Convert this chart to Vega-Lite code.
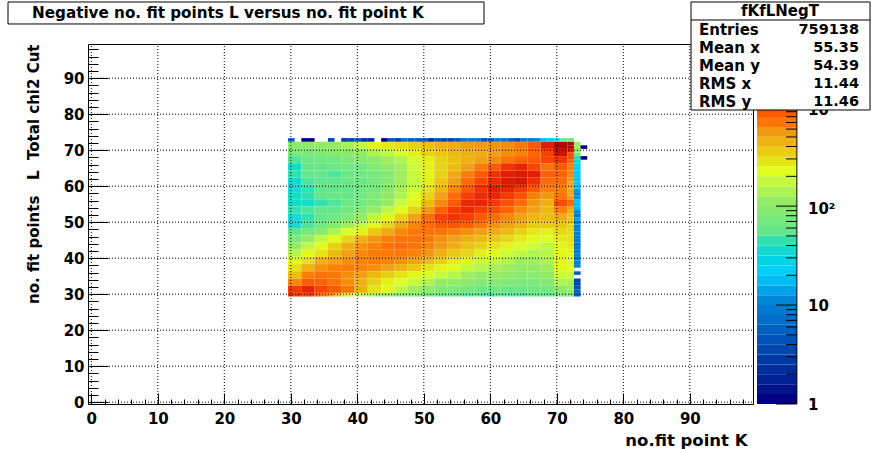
{"$schema":"https://vega.github.io/schema/vega-lite/v6.json","width":665,"height":360,"padding":{"left":88,"top":44,"right":133,"bottom":45},"autosize":{"type":"none"},"background":"white","view":{"stroke":"black","strokeWidth":1,"fill":"white"},
"config":{"text":{"font":"DejaVu Sans","fontWeight":"bold"},"axis":{"labelFont":"DejaVu Sans","labelFontWeight":"bold","labelFontSize":15,"labelColor":"black","titleFont":"DejaVu Sans","titleFontWeight":"bold","titleFontSize":15,"titleColor":"black","tickColor":"black","grid":false,"domain":false,"labelOverlap":false,"labelBound":false,"labelFlush":false}},
"data":{"values":[{"a":1}]},
"datasets":{
"coarse":[
{"x":30,"y":71,"v":85},{"x":32,"y":71,"v":90},{"x":34,"y":71,"v":95},{"x":36,"y":71,"v":100},{"x":38,"y":71,"v":120},{"x":40,"y":71,"v":160},{"x":42,"y":71,"v":220},{"x":44,"y":71,"v":250},{"x":46,"y":71,"v":270},{"x":48,"y":71,"v":300},{"x":50,"y":71,"v":360},{"x":52,"y":71,"v":400},{"x":54,"y":71,"v":430},{"x":56,"y":71,"v":480},{"x":58,"y":71,"v":500},{"x":60,"y":71,"v":520},{"x":62,"y":71,"v":540},{"x":64,"y":71,"v":620},{"x":66,"y":71,"v":800},{"x":68,"y":71,"v":1400},{"x":70,"y":71,"v":2500},
{"x":30,"y":69,"v":70},{"x":32,"y":69,"v":70},{"x":34,"y":69,"v":75},{"x":36,"y":69,"v":85},{"x":38,"y":69,"v":85},{"x":40,"y":69,"v":100},{"x":42,"y":69,"v":130},{"x":44,"y":69,"v":150},{"x":46,"y":69,"v":190},{"x":48,"y":69,"v":230},{"x":50,"y":69,"v":300},{"x":52,"y":69,"v":340},{"x":54,"y":69,"v":370},{"x":56,"y":69,"v":400},{"x":58,"y":69,"v":420},{"x":60,"y":69,"v":470},{"x":62,"y":69,"v":530},{"x":64,"y":69,"v":580},{"x":66,"y":69,"v":720},{"x":68,"y":69,"v":1000},{"x":70,"y":69,"v":1800},
{"x":30,"y":67,"v":45},{"x":32,"y":67,"v":55},{"x":34,"y":67,"v":60},{"x":36,"y":67,"v":60},{"x":38,"y":67,"v":70},{"x":40,"y":67,"v":80},{"x":42,"y":67,"v":90},{"x":44,"y":67,"v":110},{"x":46,"y":67,"v":130},{"x":48,"y":67,"v":180},{"x":50,"y":67,"v":230},{"x":52,"y":67,"v":300},{"x":54,"y":67,"v":350},{"x":56,"y":67,"v":400},{"x":58,"y":67,"v":470},{"x":60,"y":67,"v":540},{"x":62,"y":67,"v":640},{"x":64,"y":67,"v":740},{"x":66,"y":67,"v":800},{"x":68,"y":67,"v":950},{"x":70,"y":67,"v":1100},
{"x":30,"y":65,"v":35},{"x":32,"y":65,"v":50},{"x":34,"y":65,"v":50},{"x":36,"y":65,"v":55},{"x":38,"y":65,"v":60},{"x":40,"y":65,"v":60},{"x":42,"y":65,"v":75},{"x":44,"y":65,"v":90},{"x":46,"y":65,"v":110},{"x":48,"y":65,"v":170},{"x":50,"y":65,"v":230},{"x":52,"y":65,"v":300},{"x":54,"y":65,"v":370},{"x":56,"y":65,"v":470},{"x":58,"y":65,"v":620},{"x":60,"y":65,"v":800},{"x":62,"y":65,"v":1100},{"x":64,"y":65,"v":1250},{"x":66,"y":65,"v":950},{"x":68,"y":65,"v":640},{"x":70,"y":65,"v":800},
{"x":30,"y":63,"v":40},{"x":32,"y":63,"v":50},{"x":34,"y":63,"v":50},{"x":36,"y":63,"v":45},{"x":38,"y":63,"v":55},{"x":40,"y":63,"v":60},{"x":42,"y":63,"v":65},{"x":44,"y":63,"v":80},{"x":46,"y":63,"v":110},{"x":48,"y":63,"v":160},{"x":50,"y":63,"v":220},{"x":52,"y":63,"v":300},{"x":54,"y":63,"v":430},{"x":56,"y":63,"v":600},{"x":58,"y":63,"v":800},{"x":60,"y":63,"v":1100},{"x":62,"y":63,"v":1350},{"x":64,"y":63,"v":1500},{"x":66,"y":63,"v":1300},{"x":68,"y":63,"v":740},{"x":70,"y":63,"v":740},
{"x":30,"y":61,"v":32},{"x":32,"y":61,"v":45},{"x":34,"y":61,"v":50},{"x":36,"y":61,"v":50},{"x":38,"y":61,"v":55},{"x":40,"y":61,"v":55},{"x":42,"y":61,"v":65},{"x":44,"y":61,"v":80},{"x":46,"y":61,"v":110},{"x":48,"y":61,"v":160},{"x":50,"y":61,"v":230},{"x":52,"y":61,"v":340},{"x":54,"y":61,"v":470},{"x":56,"y":61,"v":680},{"x":58,"y":61,"v":930},{"x":60,"y":61,"v":1200},{"x":62,"y":61,"v":1450},{"x":64,"y":61,"v":1600},{"x":66,"y":61,"v":1150},{"x":68,"y":61,"v":680},{"x":70,"y":61,"v":680},
{"x":30,"y":59,"v":30},{"x":32,"y":59,"v":40},{"x":34,"y":59,"v":50},{"x":36,"y":59,"v":50},{"x":38,"y":59,"v":50},{"x":40,"y":59,"v":60},{"x":42,"y":59,"v":65},{"x":44,"y":59,"v":85},{"x":46,"y":59,"v":120},{"x":48,"y":59,"v":170},{"x":50,"y":59,"v":260},{"x":52,"y":59,"v":380},{"x":54,"y":59,"v":560},{"x":56,"y":59,"v":800},{"x":58,"y":59,"v":1100},{"x":60,"y":59,"v":1350},{"x":62,"y":59,"v":1250},{"x":64,"y":59,"v":1050},{"x":66,"y":59,"v":800},{"x":68,"y":59,"v":600},{"x":70,"y":59,"v":600},
{"x":30,"y":57,"v":35},{"x":32,"y":57,"v":40},{"x":34,"y":57,"v":50},{"x":36,"y":57,"v":55},{"x":38,"y":57,"v":50},{"x":40,"y":57,"v":60},{"x":42,"y":57,"v":70},{"x":44,"y":57,"v":90},{"x":46,"y":57,"v":130},{"x":48,"y":57,"v":190},{"x":50,"y":57,"v":300},{"x":52,"y":57,"v":470},{"x":54,"y":57,"v":680},{"x":56,"y":57,"v":1000},{"x":58,"y":57,"v":1200},{"x":60,"y":57,"v":1250},{"x":62,"y":57,"v":1050},{"x":64,"y":57,"v":850},{"x":66,"y":57,"v":600},{"x":68,"y":57,"v":500},{"x":70,"y":57,"v":640},
{"x":30,"y":55,"v":35},{"x":32,"y":55,"v":35},{"x":34,"y":55,"v":40},{"x":36,"y":55,"v":45},{"x":38,"y":55,"v":55},{"x":40,"y":55,"v":60},{"x":42,"y":55,"v":75},{"x":44,"y":55,"v":100},{"x":46,"y":55,"v":160},{"x":48,"y":55,"v":220},{"x":50,"y":55,"v":370},{"x":52,"y":55,"v":560},{"x":54,"y":55,"v":800},{"x":56,"y":55,"v":1200},{"x":58,"y":55,"v":1250},{"x":60,"y":55,"v":1050},{"x":62,"y":55,"v":850},{"x":64,"y":55,"v":680},{"x":66,"y":55,"v":500},{"x":68,"y":55,"v":400},{"x":70,"y":55,"v":900},
{"x":30,"y":53,"v":40},{"x":32,"y":53,"v":45},{"x":34,"y":53,"v":50},{"x":36,"y":53,"v":50},{"x":38,"y":53,"v":60},{"x":40,"y":53,"v":75},{"x":42,"y":53,"v":100},{"x":44,"y":53,"v":150},{"x":46,"y":53,"v":210},{"x":48,"y":53,"v":300},{"x":50,"y":53,"v":500},{"x":52,"y":53,"v":770},{"x":54,"y":53,"v":1050},{"x":56,"y":53,"v":1200},{"x":58,"y":53,"v":1050},{"x":60,"y":53,"v":900},{"x":62,"y":53,"v":740},{"x":64,"y":53,"v":560},{"x":66,"y":53,"v":460},{"x":68,"y":53,"v":370},{"x":70,"y":53,"v":600},
{"x":30,"y":51,"v":30},{"x":32,"y":51,"v":40},{"x":34,"y":51,"v":50},{"x":36,"y":51,"v":60},{"x":38,"y":51,"v":75},{"x":40,"y":51,"v":100},{"x":42,"y":51,"v":150},{"x":44,"y":51,"v":210},{"x":46,"y":51,"v":300},{"x":48,"y":51,"v":460},{"x":50,"y":51,"v":680},{"x":52,"y":51,"v":1000},{"x":54,"y":51,"v":1100},{"x":56,"y":51,"v":1000},{"x":58,"y":51,"v":800},{"x":60,"y":51,"v":680},{"x":62,"y":51,"v":560},{"x":64,"y":51,"v":470},{"x":66,"y":51,"v":390},{"x":68,"y":51,"v":360},{"x":70,"y":51,"v":430},
{"x":30,"y":49,"v":30},{"x":32,"y":49,"v":45},{"x":34,"y":49,"v":60},{"x":36,"y":49,"v":80},{"x":38,"y":49,"v":110},{"x":40,"y":49,"v":160},{"x":42,"y":49,"v":210},{"x":44,"y":49,"v":290},{"x":46,"y":49,"v":430},{"x":48,"y":49,"v":560},{"x":50,"y":49,"v":680},{"x":52,"y":49,"v":800},{"x":54,"y":49,"v":800},{"x":56,"y":49,"v":740},{"x":58,"y":49,"v":620},{"x":60,"y":49,"v":520},{"x":62,"y":49,"v":460},{"x":64,"y":49,"v":390},{"x":66,"y":49,"v":330},{"x":68,"y":49,"v":320},{"x":70,"y":49,"v":330},
{"x":30,"y":47,"v":50},{"x":32,"y":47,"v":65},{"x":34,"y":47,"v":85},{"x":36,"y":47,"v":130},{"x":38,"y":47,"v":190},{"x":40,"y":47,"v":230},{"x":42,"y":47,"v":330},{"x":44,"y":47,"v":430},{"x":46,"y":47,"v":560},{"x":48,"y":47,"v":620},{"x":50,"y":47,"v":640},{"x":52,"y":47,"v":640},{"x":54,"y":47,"v":600},{"x":56,"y":47,"v":530},{"x":58,"y":47,"v":470},{"x":60,"y":47,"v":420},{"x":62,"y":47,"v":370},{"x":64,"y":47,"v":300},{"x":66,"y":47,"v":250},{"x":68,"y":47,"v":230},{"x":70,"y":47,"v":290},
{"x":30,"y":45,"v":70},{"x":32,"y":45,"v":100},{"x":34,"y":45,"v":150},{"x":36,"y":45,"v":210},{"x":38,"y":45,"v":290},{"x":40,"y":45,"v":410},{"x":42,"y":45,"v":500},{"x":44,"y":45,"v":600},{"x":46,"y":45,"v":640},{"x":48,"y":45,"v":640},{"x":50,"y":45,"v":620},{"x":52,"y":45,"v":530},{"x":54,"y":45,"v":470},{"x":56,"y":45,"v":410},{"x":58,"y":45,"v":370},{"x":60,"y":45,"v":330},{"x":62,"y":45,"v":290},{"x":64,"y":45,"v":240},{"x":66,"y":45,"v":210},{"x":68,"y":45,"v":190},{"x":70,"y":45,"v":250},
{"x":30,"y":43,"v":100},{"x":32,"y":43,"v":150},{"x":34,"y":43,"v":210},{"x":36,"y":43,"v":300},{"x":38,"y":43,"v":420},{"x":40,"y":43,"v":520},{"x":42,"y":43,"v":580},{"x":44,"y":43,"v":640},{"x":46,"y":43,"v":680},{"x":48,"y":43,"v":640},{"x":50,"y":43,"v":580},{"x":52,"y":43,"v":500},{"x":54,"y":43,"v":420},{"x":56,"y":43,"v":350},{"x":58,"y":43,"v":300},{"x":60,"y":43,"v":260},{"x":62,"y":43,"v":220},{"x":64,"y":43,"v":190},{"x":66,"y":43,"v":170},{"x":68,"y":43,"v":150},{"x":70,"y":43,"v":220},
{"x":30,"y":41,"v":140},{"x":32,"y":41,"v":210},{"x":34,"y":41,"v":260},{"x":36,"y":41,"v":370},{"x":38,"y":41,"v":470},{"x":40,"y":41,"v":560},{"x":42,"y":41,"v":610},{"x":44,"y":41,"v":620},{"x":46,"y":41,"v":620},{"x":48,"y":41,"v":580},{"x":50,"y":41,"v":500},{"x":52,"y":41,"v":400},{"x":54,"y":41,"v":330},{"x":56,"y":41,"v":290},{"x":58,"y":41,"v":230},{"x":60,"y":41,"v":210},{"x":62,"y":41,"v":170},{"x":64,"y":41,"v":150},{"x":66,"y":41,"v":130},{"x":68,"y":41,"v":140},{"x":70,"y":41,"v":210},
{"x":30,"y":39,"v":200},{"x":32,"y":39,"v":260},{"x":34,"y":39,"v":400},{"x":36,"y":39,"v":470},{"x":38,"y":39,"v":530},{"x":40,"y":39,"v":580},{"x":42,"y":39,"v":600},{"x":44,"y":39,"v":580},{"x":46,"y":39,"v":530},{"x":48,"y":39,"v":450},{"x":50,"y":39,"v":370},{"x":52,"y":39,"v":300},{"x":54,"y":39,"v":240},{"x":56,"y":39,"v":210},{"x":58,"y":39,"v":170},{"x":60,"y":39,"v":160},{"x":62,"y":39,"v":140},{"x":64,"y":39,"v":110},{"x":66,"y":39,"v":110},{"x":68,"y":39,"v":130},{"x":70,"y":39,"v":220},
{"x":30,"y":37,"v":270},{"x":32,"y":37,"v":400},{"x":34,"y":37,"v":520},{"x":36,"y":37,"v":580},{"x":38,"y":37,"v":610},{"x":40,"y":37,"v":580},{"x":42,"y":37,"v":530},{"x":44,"y":37,"v":470},{"x":46,"y":37,"v":400},{"x":48,"y":37,"v":330},{"x":50,"y":37,"v":260},{"x":52,"y":37,"v":220},{"x":54,"y":37,"v":190},{"x":56,"y":37,"v":160},{"x":58,"y":37,"v":140},{"x":60,"y":37,"v":120},{"x":62,"y":37,"v":110},{"x":64,"y":37,"v":100},{"x":66,"y":37,"v":100},{"x":68,"y":37,"v":110},{"x":70,"y":37,"v":220},
{"x":30,"y":35,"v":360},{"x":32,"y":35,"v":600},{"x":34,"y":35,"v":640},{"x":36,"y":35,"v":620},{"x":38,"y":35,"v":530},{"x":40,"y":35,"v":470},{"x":42,"y":35,"v":380},{"x":44,"y":35,"v":310},{"x":46,"y":35,"v":260},{"x":48,"y":35,"v":220},{"x":50,"y":35,"v":190},{"x":52,"y":35,"v":160},{"x":54,"y":35,"v":140},{"x":56,"y":35,"v":110},{"x":58,"y":35,"v":100},{"x":60,"y":35,"v":100},{"x":62,"y":35,"v":90},{"x":64,"y":35,"v":85},{"x":66,"y":35,"v":85},{"x":68,"y":35,"v":95},{"x":70,"y":35,"v":170},
{"x":30,"y":33,"v":560},{"x":32,"y":33,"v":770},{"x":34,"y":33,"v":740},{"x":36,"y":33,"v":640},{"x":38,"y":33,"v":530},{"x":40,"y":33,"v":410},{"x":42,"y":33,"v":300},{"x":44,"y":33,"v":230},{"x":46,"y":33,"v":190},{"x":48,"y":33,"v":160},{"x":50,"y":33,"v":130},{"x":52,"y":33,"v":100},{"x":54,"y":33,"v":95},{"x":56,"y":33,"v":90},{"x":58,"y":33,"v":80},{"x":60,"y":33,"v":80},{"x":62,"y":33,"v":75},{"x":64,"y":33,"v":70},{"x":66,"y":33,"v":70},{"x":68,"y":33,"v":80},{"x":70,"y":33,"v":130},
{"x":30,"y":31,"v":1050},{"x":32,"y":31,"v":1250},{"x":34,"y":31,"v":950},{"x":36,"y":31,"v":800},{"x":38,"y":31,"v":640},{"x":40,"y":31,"v":410},{"x":42,"y":31,"v":260},{"x":44,"y":31,"v":210},{"x":46,"y":31,"v":150},{"x":48,"y":31,"v":110},{"x":50,"y":31,"v":90},{"x":52,"y":31,"v":75},{"x":54,"y":31,"v":70},{"x":56,"y":31,"v":65},{"x":58,"y":31,"v":55},{"x":60,"y":31,"v":60},{"x":62,"y":31,"v":55},{"x":64,"y":31,"v":55},{"x":66,"y":31,"v":60},{"x":68,"y":31,"v":60},{"x":70,"y":31,"v":90}],
"fine":[
{"x":30,"y":30,"v":1100},{"x":31,"y":30,"v":1100},{"x":32,"y":30,"v":1000},{"x":33,"y":30,"v":1000},{"x":34,"y":30,"v":700},{"x":35,"y":30,"v":600},{"x":36,"y":30,"v":500},{"x":37,"y":30,"v":350},{"x":38,"y":30,"v":250},{"x":39,"y":30,"v":220},{"x":40,"y":30,"v":180},{"x":41,"y":30,"v":150},{"x":42,"y":30,"v":130},{"x":43,"y":30,"v":110},{"x":44,"y":30,"v":100},{"x":45,"y":30,"v":90},{"x":46,"y":30,"v":80},{"x":47,"y":30,"v":80},{"x":48,"y":30,"v":75},{"x":49,"y":30,"v":70},{"x":50,"y":30,"v":65},{"x":51,"y":30,"v":60},{"x":52,"y":30,"v":55},{"x":53,"y":30,"v":50},{"x":54,"y":30,"v":50},{"x":55,"y":30,"v":50},{"x":56,"y":30,"v":45},{"x":57,"y":30,"v":45},{"x":58,"y":30,"v":50},{"x":59,"y":30,"v":45},{"x":60,"y":30,"v":40},{"x":61,"y":30,"v":50},{"x":62,"y":30,"v":45},{"x":63,"y":30,"v":45},{"x":64,"y":30,"v":45},{"x":65,"y":30,"v":45},{"x":66,"y":30,"v":50},{"x":67,"y":30,"v":50},{"x":68,"y":30,"v":50},{"x":69,"y":30,"v":55},{"x":70,"y":30,"v":60},{"x":71,"y":30,"v":70},{"x":72,"y":30,"v":80},
{"x":72,"y":31,"v":100},{"x":72,"y":32,"v":100},{"x":72,"y":33,"v":110},{"x":72,"y":34,"v":130},{"x":72,"y":35,"v":150},{"x":72,"y":36,"v":170},{"x":72,"y":37,"v":190},{"x":72,"y":38,"v":200},{"x":72,"y":39,"v":210},{"x":72,"y":40,"v":200},{"x":72,"y":41,"v":210},{"x":72,"y":42,"v":220},{"x":72,"y":43,"v":240},{"x":72,"y":44,"v":260},{"x":72,"y":45,"v":270},{"x":72,"y":46,"v":270},{"x":72,"y":47,"v":270},{"x":72,"y":48,"v":300},{"x":72,"y":49,"v":300},{"x":72,"y":50,"v":330},{"x":72,"y":51,"v":330},{"x":72,"y":52,"v":350},{"x":72,"y":53,"v":400},{"x":72,"y":54,"v":450},{"x":72,"y":55,"v":700},{"x":72,"y":56,"v":750},{"x":72,"y":57,"v":480},{"x":72,"y":58,"v":450},{"x":72,"y":59,"v":450},{"x":72,"y":60,"v":450},{"x":72,"y":61,"v":450},{"x":72,"y":62,"v":500},{"x":72,"y":63,"v":560},{"x":72,"y":64,"v":560},{"x":72,"y":65,"v":600},{"x":72,"y":66,"v":600},{"x":72,"y":67,"v":700},{"x":72,"y":68,"v":900},{"x":72,"y":69,"v":900},{"x":72,"y":70,"v":1500},{"x":72,"y":71,"v":2500},{"x":72,"y":72,"v":2500},
{"x":73,"y":30,"v":5},{"x":73,"y":31,"v":5},{"x":73,"y":32,"v":4},{"x":73,"y":33,"v":3},{"x":73,"y":34,"v":3},{"x":73,"y":36,"v":5},{"x":73,"y":38,"v":9},{"x":73,"y":39,"v":9},{"x":73,"y":40,"v":8},{"x":73,"y":41,"v":9},{"x":73,"y":42,"v":8},{"x":73,"y":43,"v":7},{"x":73,"y":44,"v":7},{"x":73,"y":45,"v":8},{"x":73,"y":46,"v":8},{"x":73,"y":47,"v":9},{"x":73,"y":48,"v":9},{"x":73,"y":49,"v":8},{"x":73,"y":50,"v":9},{"x":73,"y":51,"v":12},{"x":73,"y":52,"v":8},{"x":73,"y":53,"v":9},{"x":73,"y":54,"v":15},{"x":73,"y":55,"v":16},{"x":73,"y":56,"v":17},{"x":73,"y":57,"v":11},{"x":73,"y":58,"v":10},{"x":73,"y":59,"v":12},{"x":73,"y":60,"v":16},{"x":73,"y":61,"v":17},{"x":73,"y":62,"v":17},{"x":73,"y":63,"v":17},{"x":73,"y":64,"v":17},{"x":73,"y":65,"v":20},{"x":73,"y":66,"v":20},{"x":73,"y":67,"v":35},{"x":73,"y":68,"v":35},{"x":73,"y":69,"v":60},{"x":73,"y":70,"v":100},{"x":73,"y":71,"v":110},{"x":73,"y":72,"v":110},
{"x":74,"y":71,"v":1},{"x":74,"y":68,"v":1},
{"x":30,"y":73,"v":5},{"x":32,"y":73,"v":1},{"x":33,"y":73,"v":1},{"x":36,"y":73,"v":3},{"x":38,"y":73,"v":3},{"x":39,"y":73,"v":3},{"x":40,"y":73,"v":4},{"x":41,"y":73,"v":2},{"x":42,"y":73,"v":2},{"x":44,"y":73,"v":1},{"x":45,"y":73,"v":4},{"x":46,"y":73,"v":3},{"x":47,"y":73,"v":6},{"x":48,"y":73,"v":5},{"x":49,"y":73,"v":5},{"x":50,"y":73,"v":5},{"x":51,"y":73,"v":2},{"x":52,"y":73,"v":4},{"x":53,"y":73,"v":3},{"x":54,"y":73,"v":3},{"x":55,"y":73,"v":4},{"x":56,"y":73,"v":7},{"x":57,"y":73,"v":7},{"x":58,"y":73,"v":7},{"x":59,"y":73,"v":4},{"x":60,"y":73,"v":4},{"x":61,"y":73,"v":8},{"x":62,"y":73,"v":8},{"x":63,"y":73,"v":5},{"x":64,"y":73,"v":3.5},{"x":65,"y":73,"v":8},{"x":66,"y":73,"v":8},{"x":67,"y":73,"v":9},{"x":68,"y":73,"v":16},{"x":69,"y":73,"v":18},{"x":70,"y":73,"v":30},{"x":71,"y":73,"v":60},{"x":72,"y":73,"v":60}],
"bar":[{"c":1,"d":1.26},{"c":1.26,"d":1.58},{"c":1.58,"d":2},{"c":2,"d":2.51},{"c":2.51,"d":3.16},{"c":3.16,"d":3.98},{"c":3.98,"d":5.01},{"c":5.01,"d":6.31},{"c":6.31,"d":7.94},{"c":7.94,"d":10},{"c":10,"d":12.6},{"c":12.6,"d":15.8},{"c":15.8,"d":20},{"c":20,"d":25.1},{"c":25.1,"d":31.6},{"c":31.6,"d":39.8},{"c":39.8,"d":50.1},{"c":50.1,"d":63.1},{"c":63.1,"d":79.4},{"c":79.4,"d":100},{"c":100,"d":126},{"c":126,"d":158},{"c":158,"d":200},{"c":200,"d":251},{"c":251,"d":316},{"c":316,"d":398},{"c":398,"d":501},{"c":501,"d":631},{"c":631,"d":794},{"c":794,"d":1000},{"c":1000,"d":1259},{"c":1259,"d":1585},{"c":1585,"d":1995},{"c":1995,"d":2512},{"c":2512,"d":3162},{"c":3162,"d":3981},{"c":3981,"d":4350}],
"grid":[{"g":0},{"g":10},{"g":20},{"g":30},{"g":40},{"g":50},{"g":60},{"g":70},{"g":80},{"g":90}]
},
"resolve":{"scale":{"x":"independent","y":"independent"},"axis":{"x":"independent","y":"independent"}},
"layer":[
{"mark":{"type":"rule","opacity":0},"encoding":{
"x":{"field":"a","type":"quantitative","scale":{"domain":[-0.5,99.5],"nice":false,"zero":false},"axis":{"orient":"bottom","title":null,"labels":false,"values":[2,4,6,8,12,14,16,18,22,24,26,28,32,34,36,38,42,44,46,48,52,54,56,58,62,64,66,68,72,74,76,78,82,84,86,88,92,94,96,98],"tickSize":-5}},
"y":{"field":"a","type":"quantitative","scale":{"domain":[-0.5,99.5],"nice":false,"zero":false},"axis":{"orient":"left","title":null,"labels":false,"values":[2,4,6,8,12,14,16,18,22,24,26,28,32,34,36,38,42,44,46,48,52,54,56,58,62,64,66,68,72,74,76,78,82,84,86,88,92,94,96,98],"tickSize":-10}}}},
{"mark":{"type":"rule","opacity":0},"encoding":{
"x":{"field":"a","type":"quantitative","scale":{"domain":[-0.5,99.5],"nice":false,"zero":false},"axis":{"orient":"bottom","values":[0,10,20,30,40,50,60,70,80,90],"tickSize":-11,"labelPadding":18,"labelAngle":0,"title":"no.fit point K","titleFontSize":16.5,"titleAnchor":"end","titleAlign":"right","titleX":659,"titleY":36,"titleBaseline":"middle"}},
"y":{"field":"a","type":"quantitative","scale":{"domain":[-0.5,99.5],"nice":false,"zero":false},"axis":{"orient":"left","values":[0,10,20,30,40,50,60,70,80,90],"tickSize":-20,"labelPadding":24,"title":"no. fit points\u00a0\u00a0\u00a0L\u00a0\u00a0Total chi2 Cut","titleAnchor":"end","titleAlign":"right","titleAngle":-90,"titleX":-55,"titleY":0,"titleBaseline":"middle"}}}},
{"data":{"name":"bar"},"mark":{"type":"rect"},"encoding":{
"x":{"datum":100.1,"type":"quantitative","scale":{"domain":[-0.5,99.5],"nice":false,"zero":false},"axis":null},"x2":{"datum":106.1},
"y":{"field":"c","type":"quantitative","scale":{"type":"log","domain":[1,4350],"nice":false},"axis":null},"y2":{"field":"d"},
"color":{"field":"c","type":"quantitative","legend":null,"scale":{"type":"log","domain":[1,2.2,4.6,10,18,30,49,100,200,290,470,660,930,1300,4350],"range":["#000082","#0032a0","#005abe","#0087d7","#00cdff","#1ed7d7","#64e68c","#96eb64","#e1ff1e","#e6d719","#f0a019","#ff6e0a","#ff4600","#e61e00","#820000"]}}}},
{"data":{"values":[{"t":1},{"t":10},{"t":100},{"t":1000}]},"mark":{"type":"rule","color":"#000000","strokeWidth":1},"encoding":{"x":{"datum":102.96,"type":"quantitative","scale":{"domain":[-0.5,99.5],"nice":false,"zero":false},"axis":null},"x2":{"datum":106.1},"y":{"field":"t","type":"quantitative","scale":{"type":"log","domain":[1,4350],"nice":false},"axis":null}}},
{"data":{"values":[{"t":2},{"t":3},{"t":4},{"t":5},{"t":6},{"t":7},{"t":8},{"t":9},{"t":20},{"t":30},{"t":40},{"t":50},{"t":60},{"t":70},{"t":80},{"t":90},{"t":200},{"t":300},{"t":400},{"t":500},{"t":600},{"t":700},{"t":800},{"t":900},{"t":2000},{"t":3000},{"t":4000}]},"mark":{"type":"rule","color":"#000000","strokeWidth":1},"encoding":{"x":{"datum":104.46,"type":"quantitative","scale":{"domain":[-0.5,99.5],"nice":false,"zero":false},"axis":null},"x2":{"datum":106.1},"y":{"field":"t","type":"quantitative","scale":{"type":"log","domain":[1,4350],"nice":false},"axis":null}}},
{"mark":{"type":"rule","color":"#000000","strokeWidth":1},"encoding":{"x":{"datum":106.1,"type":"quantitative","scale":{"domain":[-0.5,99.5],"nice":false,"zero":false},"axis":null},"y":{"datum":1,"type":"quantitative","scale":{"type":"log","domain":[1,4350],"nice":false},"axis":null},"y2":{"datum":4350}}},
{"data":{"values":[{"t":1,"s":"1"},{"t":10,"s":"10"}]},"mark":{"type":"text","align":"left","baseline":"middle","fontSize":15,"fontWeight":"bold","font":"DejaVu Sans","dy":1},"encoding":{"x":{"datum":107.77,"type":"quantitative","scale":{"domain":[-0.5,99.5],"nice":false,"zero":false},"axis":null},"y":{"field":"t","type":"quantitative","scale":{"type":"log","domain":[1,4350],"nice":false},"axis":null},"text":{"field":"s"}}},
{"data":{"values":[{"t":100,"s":"10²"},{"t":1000,"s":"10³"}]},"mark":{"type":"text","align":"left","baseline":"middle","fontSize":15,"fontWeight":"bold","font":"DejaVu Sans","dy":3},"encoding":{"x":{"datum":107.77,"type":"quantitative","scale":{"domain":[-0.5,99.5],"nice":false,"zero":false},"axis":null},"y":{"field":"t","type":"quantitative","scale":{"type":"log","domain":[1,4350],"nice":false},"axis":null},"text":{"field":"s"}}},
{"layer":[
{"data":{"name":"coarse"},"mark":{"type":"rect"},"encoding":{
"x":{"bin":{"step":2,"anchor":29.5,"extent":[29,72]},"field":"x","type":"quantitative","scale":{"domain":[-0.5,99.5],"nice":false,"zero":false},"axis":null},
"y":{"bin":{"step":2,"anchor":30.5,"extent":[30,73]},"field":"y","type":"quantitative","scale":{"domain":[-0.5,99.5],"nice":false,"zero":false},"axis":null},
"color":{"field":"v","type":"quantitative","legend":null,"scale":{"type":"log","domain":[1,2.2,4.6,10,18,30,49,100,200,290,470,660,930,1300,4350],"range":["#000082","#0032a0","#005abe","#0087d7","#00cdff","#1ed7d7","#64e68c","#96eb64","#e1ff1e","#e6d719","#f0a019","#ff6e0a","#ff4600","#e61e00","#820000"]}}}},
{"data":{"name":"fine"},"mark":{"type":"rect"},"encoding":{
"x":{"bin":{"step":1,"anchor":29.5,"extent":[29,76]},"field":"x","type":"quantitative","axis":null},
"y":{"bin":{"step":1,"anchor":29.5,"extent":[29,75]},"field":"y","type":"quantitative","axis":null},
"color":{"field":"v","type":"quantitative","legend":null}}},
{"data":{"name":"grid"},"mark":{"type":"rule","color":"black","strokeWidth":1,"strokeDash":[1,2]},"encoding":{"x":{"field":"g","type":"quantitative","axis":null},"y":{"datum":-0.5,"type":"quantitative","axis":null},"y2":{"datum":99.5}}},
{"data":{"name":"grid"},"mark":{"type":"rule","color":"black","strokeWidth":1,"strokeDash":[1,2]},"encoding":{"y":{"field":"g","type":"quantitative","axis":null},"x":{"datum":-0.5,"type":"quantitative","axis":null},"x2":{"datum":99.5}}},
{"mark":{"type":"rect","fill":"white","stroke":"black","strokeWidth":1},"encoding":{"x":{"datum":-12.53,"type":"quantitative","axis":null},"x2":{"datum":59.05},"y":{"datum":111.17,"type":"quantitative","axis":null},"y2":{"datum":105.06}}},
{"mark":{"type":"text","text":"Negative no. fit points L versus no. fit point K","align":"left","baseline":"middle","fontSize":15.2,"fontWeight":"bold","font":"DejaVu Sans"},"encoding":{"x":{"datum":-8.92,"type":"quantitative","axis":null},"y":{"datum":108.1,"type":"quantitative","axis":null}}},
{"mark":{"type":"rect","fill":"white","stroke":"black","strokeWidth":1},"encoding":{"x":{"datum":90.18,"type":"quantitative","axis":null},"x2":{"datum":117.1},"y":{"datum":111.17,"type":"quantitative","axis":null},"y2":{"datum":81.17}}},
{"mark":{"type":"rule","color":"black","strokeWidth":1},"encoding":{"x":{"datum":90.18,"type":"quantitative","axis":null},"x2":{"datum":117.1},"y":{"datum":106.17,"type":"quantitative","axis":null}}},
{"mark":{"type":"text","text":"fKfLNegT","align":"center","baseline":"middle","fontSize":15,"fontWeight":"bold","font":"DejaVu Sans"},"encoding":{"x":{"datum":103.56,"type":"quantitative","axis":null},"y":{"datum":108.67,"type":"quantitative","axis":null}}},
{"mark":{"type":"text","text":["Entries","Mean x","Mean y","RMS x","RMS y"],"lineHeight":18,"align":"left","baseline":"top","fontSize":15,"fontWeight":"bold","font":"DejaVu Sans"},"encoding":{"x":{"datum":91.38,"type":"quantitative","axis":null},"y":{"datum":105.2,"type":"quantitative","axis":null}}},
{"mark":{"type":"text","text":["759138","55.35","54.39","11.44","11.46"],"lineHeight":18,"align":"right","baseline":"top","fontSize":14.5,"fontWeight":"bold","font":"DejaVu Sans"},"encoding":{"x":{"datum":115.44,"type":"quantitative","axis":null},"y":{"datum":105.2,"type":"quantitative","axis":null}}}
]}
]}
